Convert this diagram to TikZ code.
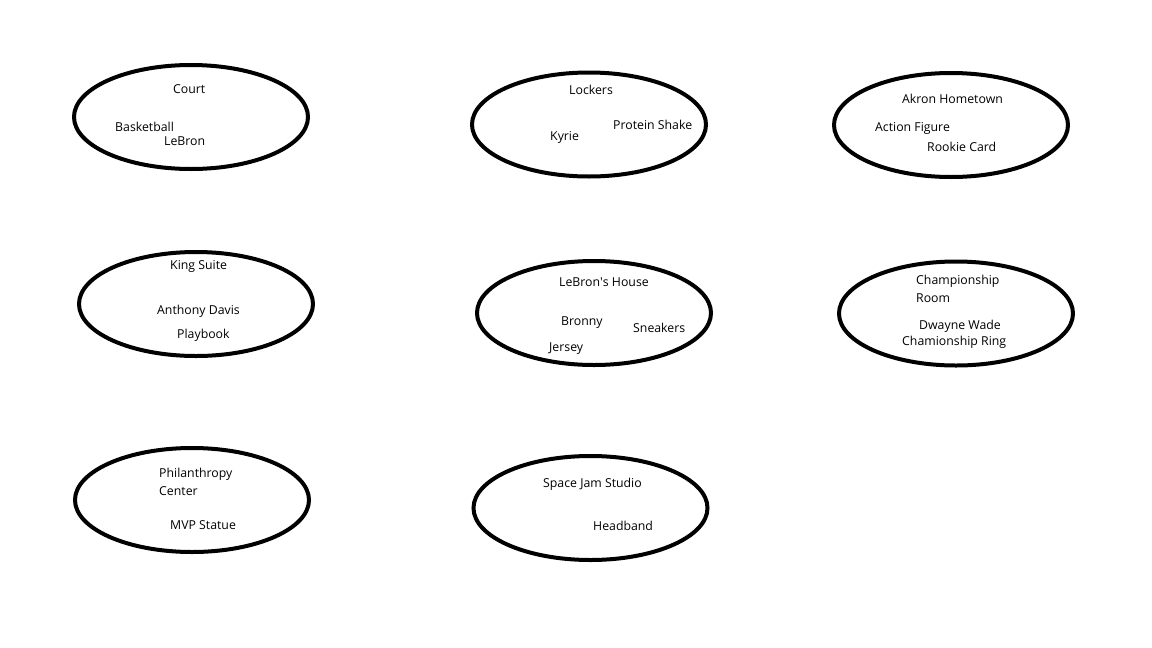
\documentclass[tikz,border=0pt]{standalone}
\usepackage{fontspec}
\setmainfont{Open Sans}
\usepackage{tikz}
\usetikzlibrary{shapes.geometric, positioning}

\tikzset{
  room/.style={draw, ellipse, line width=4pt, minimum width=234pt, minimum height=104pt, inner sep=0pt},
  item/.style={anchor=west, inner sep=0pt, yshift=-1.5pt, font=\fontsize{12.3}{18}\selectfont, align=left}
}

\begin{document}
\begin{tikzpicture}[x=1pt, y=-1pt]
  \useasboundingbox (0,0) rectangle (1152,648);

  % Rooms
  \node[room] (court) at (191,117) {};
  \node[room] (lockers) at (589,124.5) {};
  \node[room] (akron) at (951,125) {};
  \node[room] (king) at (196,304) {};
  \node[room] (house) at (594,313) {};
  \node[room] (champ) at (956,313.5) {};
  \node[room] (philan) at (192,500) {};
  \node[room] (spacejam) at (590.5,508) {};

  % Court
  \node[item] (courtlbl) at (173,88) {Court};
  \node[item] (basketball) at (115,125) {Basketball};
  \node[item] (lebron) at (164,140) {LeBron};

  % Lockers
  \node[item] (lockerslbl) at (569,88) {Lockers};
  \node[item] (shake) at (613,123) {Protein Shake};
  \node[item] (kyrie) at (550,136) {Kyrie};

  % Akron
  \node[item] (akronlbl) at (902,97) {Akron Hometown};
  \node[item] (figure) at (875,127) {Action Figure};
  \node[item] (rookie) at (927,145) {Rookie Card};

  % King Suite
  \node[item] (kinglbl) at (170,265) {King Suite};
  \node[item] (davis) at (157,310) {Anthony Davis};
  \node[item] (playbook) at (177,334) {Playbook};

  % LeBron's House
  \node[item] (houselbl) at (559,281) {LeBron\textquotesingle s House};
  \node[item] (bronny) at (561,321) {Bronny};
  \node[item] (sneakers) at (633,326) {Sneakers};
  \node[item] (jersey) at (549,347) {Jersey};

  % Championship Room
  \node[item] (champlbl) at (916,287) {Championship\\Room};
  \node[item] (wade) at (919,325) {Dwayne Wade};
  \node[item] (ring) at (902,341) {Chamionship Ring};

  % Philanthropy Center
  \node[item] (philanlbl) at (159,480) {Philanthropy\\Center};
  \node[item] (statue) at (170,524) {MVP Statue};

  % Space Jam Studio
  \node[item] (spacejamlbl) at (543,483) {Space Jam Studio};
  \node[item] (headband) at (593,524) {Headband};
\end{tikzpicture}
\end{document}
